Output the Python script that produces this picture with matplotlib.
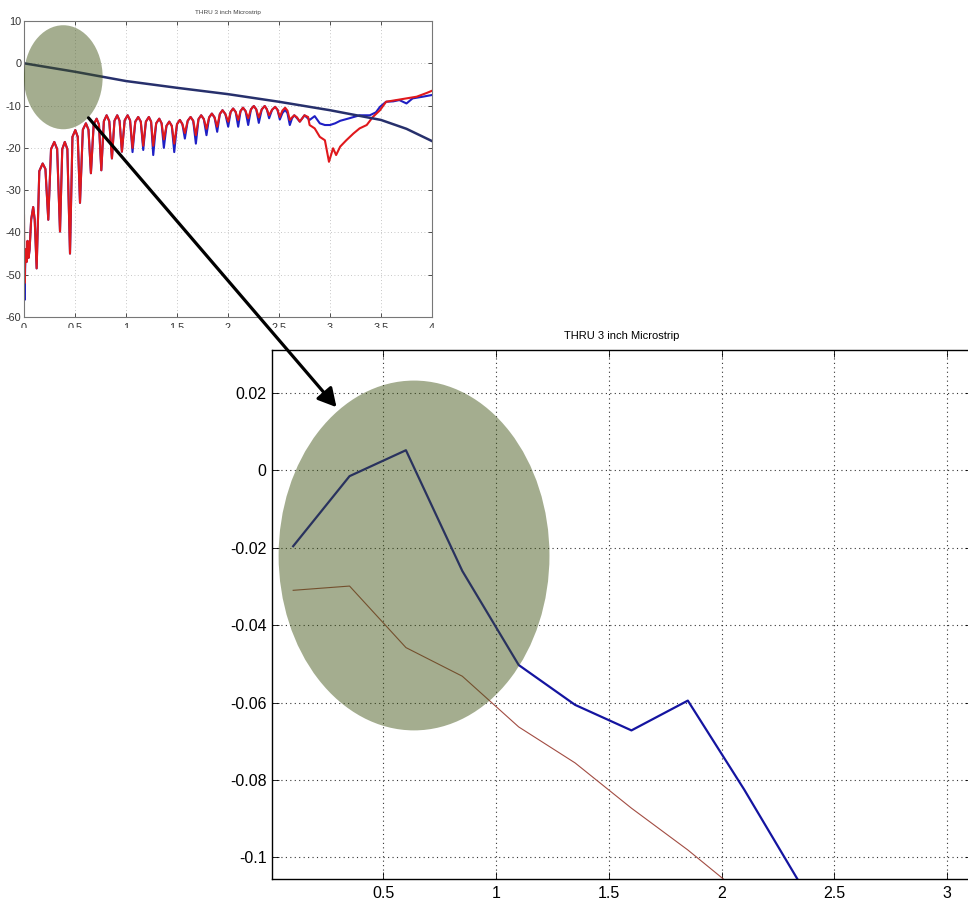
import matplotlib
matplotlib.use("Agg")
import matplotlib.pyplot as plt
from matplotlib.patches import Ellipse, FancyArrowPatch, Rectangle
import numpy as np

plt.rcParams["font.family"] = ["Liberation Sans", "DejaVu Sans"]
plt.rcParams["axes.unicode_minus"] = False

# ---- overview sweep (0-4 GHz), return-loss ripple, read peak/shoulder/null
ret_f = [0.0, 0.005, 0.015, 0.025, 0.035, 0.045, 0.055, 0.07, 0.09, 0.105, 0.124,
         0.15, 0.183, 0.21, 0.238,
         0.265, 0.297, 0.325, 0.353,
         0.375, 0.40, 0.425, 0.451,
         0.475, 0.503, 0.527, 0.549,
         0.577, 0.607, 0.632, 0.656,
         0.683, 0.712, 0.735, 0.758,
         0.783, 0.81, 0.836, 0.862,
         0.887, 0.914, 0.937, 0.960,
         0.987, 1.016, 1.04, 1.064,
         1.091, 1.12, 1.145, 1.169,
         1.195, 1.224, 1.246, 1.267,
         1.296, 1.326, 1.349, 1.371,
         1.397, 1.424, 1.449, 1.473,
         1.50, 1.528, 1.553, 1.577,
         1.605, 1.633, 1.659, 1.685,
         1.711, 1.737, 1.763, 1.789,
         1.815, 1.842, 1.868, 1.894,
         1.92, 1.946, 1.974, 2.002,
         2.026, 2.05, 2.075, 2.10,
         2.123, 2.147, 2.172, 2.198,
         2.225, 2.253, 2.277, 2.302,
         2.331, 2.36, 2.381, 2.403,
         2.432, 2.462, 2.485, 2.508,
         2.533, 2.56, 2.583, 2.606,
         2.628, 2.65, 2.677, 2.704]
ret_red = [-36, -52, -44, -47, -42, -46, -44, -37, -34, -37, -48.5,
           -25.5, -23.7, -25.0, -37,
           -20.3, -18.6, -20.3, -39.8,
           -20.3, -18.6, -20.3, -45,
           -17.4, -15.8, -17.4, -33,
           -15.7, -14.2, -15.7, -26,
           -14.5, -13.1, -14.5, -25.3,
           -13.7, -12.3, -13.7, -22.5,
           -13.6, -12.3, -13.6, -20.9,
           -13.5, -12.3, -13.5, -20.0,
           -13.8, -12.7, -13.8, -19.5,
           -13.8, -12.7, -13.8, -19.5,
           -14.2, -13.1, -14.2, -18.0,
           -14.8, -13.8, -14.8, -19.0,
           -14.4, -13.4, -14.4, -16.5,
           -13.6, -12.7, -13.6, -17.0,
           -13.2, -12.3, -13.2, -15.5,
           -12.8, -11.9, -12.8, -15.0,
           -12.0, -11.1, -12.0, -13.8,
           -11.5, -10.7, -11.5, -13.4,
           -11.3, -10.5, -11.3, -13.0,
           -10.9, -10.1, -10.9, -12.8,
           -10.9, -10.1, -10.9, -12.3,
           -11.0, -10.3, -11.0, -12.7,
           -11.2, -10.5, -11.2, -13.4,
           -12.8, -12.3, -12.8, -13.8]
ret_blue = [-50, -56, -44, -47, -42, -46, -44, -37, -34, -37, -48.5,
            -25.5, -23.7, -25.0, -37,
            -20.3, -18.6, -20.3, -39.8,
            -20.3, -18.6, -20.3, -45,
            -17.4, -15.8, -17.4, -33,
            -15.7, -14.2, -15.7, -26,
            -14.5, -13.1, -14.5, -25.3,
            -13.7, -12.3, -13.7, -22.5,
            -13.6, -12.3, -13.6, -20.9,
            -13.5, -12.3, -13.5, -21.0,
            -13.8, -12.7, -13.8, -20.5,
            -13.8, -12.7, -13.8, -21.7,
            -14.2, -13.1, -14.2, -20.0,
            -14.8, -13.8, -14.8, -21.0,
            -14.4, -13.4, -14.4, -17.8,
            -13.6, -12.7, -13.6, -19.0,
            -13.2, -12.3, -13.2, -17.0,
            -12.8, -11.9, -12.8, -16.2,
            -12.0, -11.1, -12.0, -15.0,
            -11.5, -10.7, -11.5, -15.0,
            -11.3, -10.5, -11.3, -14.6,
            -10.9, -10.1, -10.9, -14.1,
            -10.9, -10.1, -10.9, -13.0,
            -11.0, -10.3, -11.0, -13.3,
            -11.8, -11.0, -11.8, -14.6,
            -13.0, -12.3, -13.0, -13.8]

red_tail_f = [2.75, 2.785, 2.80, 2.85, 2.90, 2.95, 2.99, 3.03, 3.06, 3.10, 3.16,
              3.23, 3.29, 3.36, 3.42, 3.49, 3.55, 3.65, 3.75, 3.85, 3.95, 4.0]
red_tail_db = [-12.3, -12.7, -14.6, -15.4, -17.4, -18.2, -23.3, -20.1, -21.7, -19.7, -18.2,
               -16.6, -15.4, -14.6, -12.7, -11.1, -9.1, -8.7, -8.3, -7.9, -7.0, -6.5]
blue_tail_f = [2.75, 2.80, 2.85, 2.90, 2.95, 3.0, 3.05, 3.10, 3.19, 3.29, 3.39,
               3.45, 3.49, 3.55, 3.62, 3.68, 3.75, 3.81, 3.91, 4.0]
blue_tail_db = [-12.3, -13.4, -12.5, -14.2, -14.6, -14.6, -14.2, -13.6, -13.0, -12.3, -12.3,
                -11.6, -10.3, -9.1, -9.0, -8.7, -9.5, -8.3, -7.9, -7.5]

# insertion loss of the thru line
thru_f = [0.0, 0.5, 1.0, 1.5, 2.0, 2.5, 3.0, 3.5, 3.75, 4.0]
thru_db = [0.0, -2.0, -4.2, -5.8, -7.3, -9.1, -11.1, -13.4, -15.5, -18.4]

# ---- zoomed sweep
zoom_f = [0.1, 0.35, 0.6, 0.85, 1.1, 1.35, 1.6, 1.85, 2.1, 2.35]
zoom_blue = [-0.0196, -0.0015, 0.0052, -0.0260, -0.0503, -0.0606, -0.0672, -0.0595, -0.0825, -0.107]
zoom_red = [-0.0310, -0.0299, -0.0458, -0.0532, -0.0663, -0.0756, -0.0873, -0.0981, -0.110, -0.120]

W, H = 968, 899
fig = plt.figure(figsize=(W / 100, H / 100), dpi=100)


def px_rect(left, top, right, bottom):
    return [left / W, 1 - bottom / H, (right - left) / W, (bottom - top) / H]


def matlab_axes(ax, tick_len, grid_color, grid_lw):
    ax.tick_params(direction="in", top=True, right=True, length=tick_len, width=0.6)
    ax.grid(True, color=grid_color, linestyle=(0, (1, 3)), linewidth=grid_lw)
    ax.set_axisbelow(True)


# overview plot
ax1 = fig.add_axes(px_rect(24, 21, 432, 317))
ax1.plot(np.r_[ret_f, blue_tail_f], np.r_[ret_blue, blue_tail_db], color="#1f1fc4", lw=1.5)
ax1.plot(np.r_[ret_f, red_tail_f], np.r_[ret_red, red_tail_db], color="#e0181c", lw=1.5)
ax1.plot(thru_f, thru_db, color="#27306c", lw=1.8)
ax1.set_xlim(0, 4)
ax1.set_ylim(-60, 10)
ax1.set_xticks(np.arange(0, 4.01, 0.5))
ax1.set_xticklabels(["0", "0.5", "1", "1.5", "2", "2.5", "3", "3.5", "4"])
ax1.set_yticks(np.arange(-60, 11, 10))
matlab_axes(ax1, 3, "#b4b4b4", 0.6)
ax1.tick_params(labelsize=7.8, pad=2, colors="#333333")
ax1.tick_params(axis="x", pad=4)
for s in ax1.spines.values():
    s.set_color("#777777")
    s.set_linewidth(0.8)
ax1.set_title("THRU 3 inch Microstrip", fontsize=4.6, pad=5, color="#444444")
ax1.add_patch(Ellipse((0.385, -3.3), 0.772, 24.6, facecolor="#415416", alpha=0.48,
                      edgecolor="none", zorder=5))

# zoomed plot
ax2 = fig.add_axes(px_rect(272.3, 350, 972, 879))
ax2.plot(zoom_f, zoom_blue, color="#1414a0", lw=1.6)
ax2.plot(zoom_f, zoom_red, color="#a24c42", lw=0.8)
ax2.set_xlim(0.0075, 3.11)
ax2.set_ylim(-0.1056, 0.0311)
ax2.set_xticks([0.5, 1, 1.5, 2, 2.5, 3])
ax2.set_xticklabels(["0.5", "1", "1.5", "2", "2.5", "3"])
ax2.set_yticks([0.02, 0, -0.02, -0.04, -0.06, -0.08, -0.1])
ax2.set_yticklabels(["0.02", "0", "-0.02", "-0.04", "-0.06", "-0.08", "-0.1"])
matlab_axes(ax2, 5, "#333333", 0.8)
ax2.tick_params(labelsize=11.5, pad=4)
ax2.tick_params(axis="x", pad=5)
for s in ax2.spines.values():
    s.set_linewidth(1.0)
ax2.set_title("THRU 3 inch Microstrip", fontsize=8, pad=8)
ax2.add_patch(Ellipse((0.636, -0.022), 1.201, 0.0904, facecolor="#415416", alpha=0.48,
                      edgecolor="none", zorder=5))

# the overview's x labels are cut off at the bottom edge
fig.add_artist(Rectangle((0, 1 - 345 / H), 445 / W, 17 / H, transform=fig.transFigure,
                         facecolor="white", edgecolor="none", zorder=3))

# arrow from the overview highlight to the zoomed highlight
arrow = FancyArrowPatch((86.7 / W, 1 - 115.7 / H), (338.3 / W, 1 - 409.3 / H),
                        transform=fig.transFigure,
                        arrowstyle="-|>,head_length=0.55,head_width=0.3",
                        mutation_scale=20, lw=2.3, color="black", zorder=10)
fig.add_artist(arrow)

fig.savefig("out.png", dpi=100)
